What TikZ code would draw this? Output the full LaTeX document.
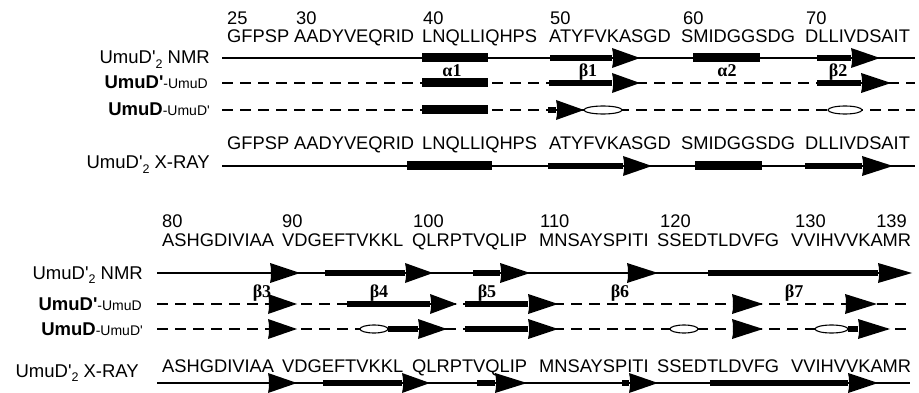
\documentclass[tikz,border=0pt]{standalone}
\usepackage{fontspec}
\setmainfont{Liberation Sans}
\newfontfamily\grkfont{Liberation Serif}
\newcommand{\subtwo}{\raisebox{-4.5pt}{\fontsize{12.5}{12}\selectfont 2}}
\newcommand{\prm}{\textquotesingle}
\tikzset{
  sq/.style={font=\fontsize{18.3}{19}\selectfont, anchor=base west, inner sep=0pt},
  nm/.style={font=\fontsize{18.3}{19}\selectfont, anchor=base west, inner sep=0pt},
  lb/.style={font=\fontsize{18.5}{19}\selectfont, anchor=base east, inner sep=0pt},
  gk/.style={font=\fontsize{18}{18}\selectfont\grkfont\bfseries, anchor=base, inner sep=0pt},
  bb/.style={line width=1.3pt},
  dl/.style={line width=1.3pt, dash pattern=on 11pt off 7pt},
  ov/.style={draw, fill=white, line width=1.1pt}
}
% helix: x1 x2 y
\newcommand{\helx}[3]{\fill (#1,#3-4.5) rectangle (#2,#3+4.5);}
% strand: bar x1..x2, head x2..x3, y
\newcommand{\strd}[4]{\fill (#1,#4-2.6) rectangle (#2,#4+2.6);
  \fill (#2,#4-10) .. controls (#2+1.5,#4-4) and (#2+1.5,#4+4) .. (#2,#4+10) -- (#3,#4) -- cycle;}
% oval: x1 x2 y
\newcommand{\ovl}[3]{\path[ov] ({(#1+#2)/2},#3) ellipse ({(#2-#1)/2} and 4);}
\begin{document}
\begin{tikzpicture}[x=1pt,y=-1pt]
\path[use as bounding box, fill=white] (0,0) rectangle (919,393);

%================ TOP BLOCK =================
% numbers
\node[nm] (n25) at (227,25) {25};
\node[nm] (n30) at (296,25) {30};
\node[nm] (n40) at (423,25) {40};
\node[nm] (n50) at (550,25) {50};
\node[nm] (n60) at (683,25) {60};
\node[nm] (n70) at (806,25) {70};
% sequence
\foreach \x/\s [count=\i] in {227/GFPSP,294/AADYVEQRID,422/LNQLLIQHPS,549/ATYFVKASGD,681/SMIDGGSDG,805/DLLIVDSAIT}
  \node[sq] (ts\i) at (\x,43) {\s};
% labels
\node[lb] (tlN) at (210,64) {UmuD\prm\subtwo{} NMR};
\node[lb] (tlA) at (208,89) {\textbf{UmuD\prm}{\fontsize{14}{14}\selectfont -UmuD}};
\node[lb] (tlB) at (210,116) {\textbf{UmuD}{\fontsize{14}{14}\selectfont -UmuD\prm}};
\node[lb] (tlX) at (210,169) {UmuD\prm\subtwo{} X-RAY};

% NMR row
\draw[bb] (222,58) -- (915,58);
\helx{422}{488}{58}
\strd{550}{612}{640}{58}
\helx{693}{760}{58}
\strd{817}{851}{880}{58}
% greek
\node[gk] (ga1) at (452,77) {\char"03B1 1};
\node[gk] (gb1) at (588,77) {\char"03B2 1};
\node[gk] (ga2) at (727,77) {\char"03B1 2};
\node[gk] (gb2) at (838,77) {\char"03B2 2};
% UmuD'-UmuD row
\draw[dl] (222,83) -- (915,83);
\helx{422}{488}{83}
\strd{549}{612}{640}{83}
\strd{817}{861}{891}{83}
% UmuD-UmuD' row
\draw[dl] (222,110) -- (915,110);
\helx{422}{488}{110}
\strd{548}{556}{584}{110}
\ovl{584}{622}{110}
\ovl{828}{862}{110}
% X-ray sequence
\foreach \x/\s [count=\i] in {227/GFPSP,294/AADYVEQRID,422/LNQLLIQHPS,549/ATYFVKASGD,681/SMIDGGSDG,805/DLLIVDSAIT}
  \node[sq] (tx\i) at (\x,150) {\s};
\draw[bb] (222,166) -- (915,166);
\helx{407}{492}{166}
\strd{548}{623}{652}{166}
\helx{695}{762}{166}
\strd{805}{862}{893}{166}

%================ BOTTOM BLOCK =================
\node[nm] (n80) at (162,228) {80};
\node[nm] (n90) at (282,228) {90};
\node[nm] (n100) at (413,228) {100};
\node[nm] (n110) at (540,228) {110};
\node[nm] (n120) at (660,228) {120};
\node[nm] (n130) at (795,228) {130};
\node[nm, anchor=base east] (n139) at (907,228) {139};
\foreach \x/\s [count=\i] in {162/ASHGDIVIAA,282/VDGEFTVKKL,412/QLRPTVQLIP,539/MNSAYSPITI,657/SSEDTLDVFG,791/VVIHVVKAMR}
  \node[sq] (bs\i) at (\x,247) {\s};
% labels
\node[lb] (blN) at (143,279) {UmuD\prm\subtwo{} NMR};
\node[lb] (blA) at (142,310) {\textbf{UmuD\prm}{\fontsize{14}{14}\selectfont -UmuD}};
\node[lb] (blB) at (143,335) {\textbf{UmuD}{\fontsize{14}{14}\selectfont -UmuD\prm}};
\node[lb] (blX) at (139,377) {UmuD\prm\subtwo{} X-RAY};
% NMR row
\draw[bb] (157,273) -- (880,273);
\strd{270}{270}{300}{273}
\strd{325}{405}{433}{273}
\strd{473}{500}{530}{273}
\strd{627}{627}{658}{273}
\strd{708}{878}{912}{273}
% greek
\node[gk] (gb3) at (262,297) {\char"03B2 3};
\node[gk] (gb4) at (379,297) {\char"03B2 4};
\node[gk] (gb5) at (487,297) {\char"03B2 5};
\node[gk] (gb6) at (620,297) {\char"03B2 6};
\node[gk] (gb7) at (794,297) {\char"03B2 7};
% UmuD'-UmuD row
\draw[dl] (157,304) -- (910,304);
\strd{268}{268}{297}{304}
\strd{347}{430}{457}{304}
\strd{465}{528}{558}{304}
\strd{732}{732}{763}{304}
\strd{845}{845}{877}{304}
% UmuD-UmuD' row
\draw[dl] (157,329) -- (910,329);
\strd{268}{268}{297}{329}
\ovl{360}{388}{329}
\strd{388}{418}{447}{329}
\strd{465}{528}{558}{329}
\ovl{670}{698}{329}
\strd{732}{732}{763}{329}
\ovl{815}{848}{329}
\strd{848}{858}{890}{329}
% X-ray
\foreach \x/\s [count=\i] in {162/ASHGDIVIAA,282/VDGEFTVKKL,412/QLRPTVQLIP,539/MNSAYSPITI,657/SSEDTLDVFG,791/VVIHVVKAMR}
  \node[sq] (bx\i) at (\x,372) {\s};
\draw[bb] (157,383) -- (910,383);
\strd{268}{268}{297}{383}
\strd{323}{402}{430}{383}
\strd{477}{495}{527}{383}
\strd{622}{629}{658}{383}
\strd{710}{848}{878}{383}
\end{tikzpicture}
\end{document}
